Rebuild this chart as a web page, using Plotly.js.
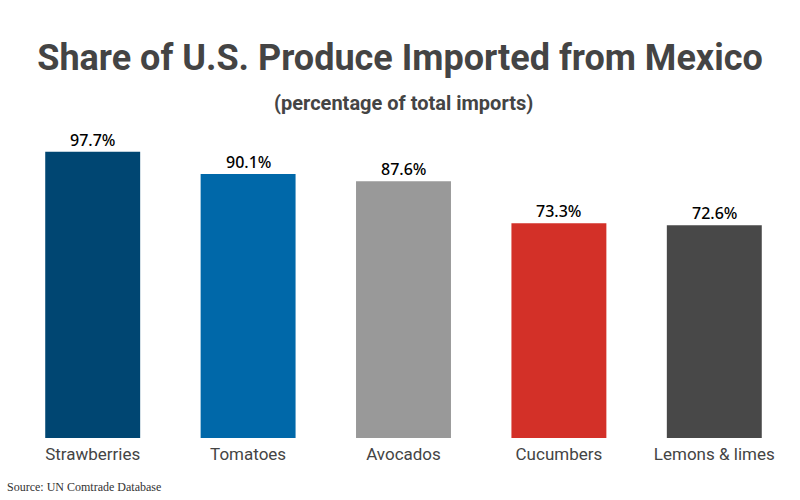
<!DOCTYPE html>
<html><head><meta charset="utf-8">
<script src="https://cdn.plot.ly/plotly-3.0.1.min.js"></script>
<style>html,body{margin:0;padding:0;background:#fff}#c{width:800px;height:500px}</style>
</head><body><div id="c"></div>
<script>
const categories = ["Strawberries", "Tomatoes", "Avocados", "Cucumbers", "Lemons & limes"];
const shares = [97.7, 90.1, 87.6, 73.3, 72.6];
const valueLabels = ["97.7%", "90.1%", "87.6%", "73.3%", "72.6%"];
const barColors = ["#004672", "#0068a9", "#999999", "#d33028", "#484848"];

const trace = {
  type: "bar",
  x: categories,
  y: shares,
  marker: {color: barColors, line: {width: 0}},
  hoverinfo: "skip"
};

const valueAnnotations = categories.map((c, i) => ({
  x: c, y: shares[i], xref: "x", yref: "y", text: valueLabels[i],
  showarrow: false, yanchor: "bottom", xanchor: "center", yshift: -1,
  font: {family: "Noto Sans", size: 16, color: "#000000", weight: 500}
}));

const layout = {
  width: 800, height: 500,
  margin: {l: 15, r: 8, t: 145, b: 62},
  paper_bgcolor: "#ffffff", plot_bgcolor: "#ffffff",
  bargap: 0.389,
  showlegend: false,
  title: {
    text: "<b>Share of U.S. Produce Imported from Mexico</b>",
    font: {family: "Roboto", size: 36, color: "#444444"},
    x: 0.5, xanchor: "center", y: 0.885, yanchor: "middle", yref: "container"
  },
  xaxis: {
    showgrid: false, zeroline: false, showline: false, ticks: "",
    tickfont: {family: "Roboto", size: 17, color: "#444444"},
    ticklabelstandoff: 4
  },
  yaxis: {
    range: [0, 100], visible: false, showgrid: false, zeroline: false
  },
  annotations: valueAnnotations.concat([
    {text: "<b>(percentage of total imports)</b>", xref: "paper", yref: "paper", x: 0.5, y: 1, yshift: 42, xanchor: "center", yanchor: "middle",
     showarrow: false, font: {family: "Roboto", size: 20, color: "#444444"}},
    {text: "Source: UN Comtrade Database", xref: "paper", yref: "paper", x: 0, xshift: -10, y: 0, yshift: -49, xanchor: "left", yanchor: "middle",
     showarrow: false, font: {family: "Liberation Serif", size: 12, color: "#333333"}}
  ])
};

Plotly.newPlot("c", [trace], layout, {staticPlot: true, displayModeBar: false});
</script>
</body></html>
